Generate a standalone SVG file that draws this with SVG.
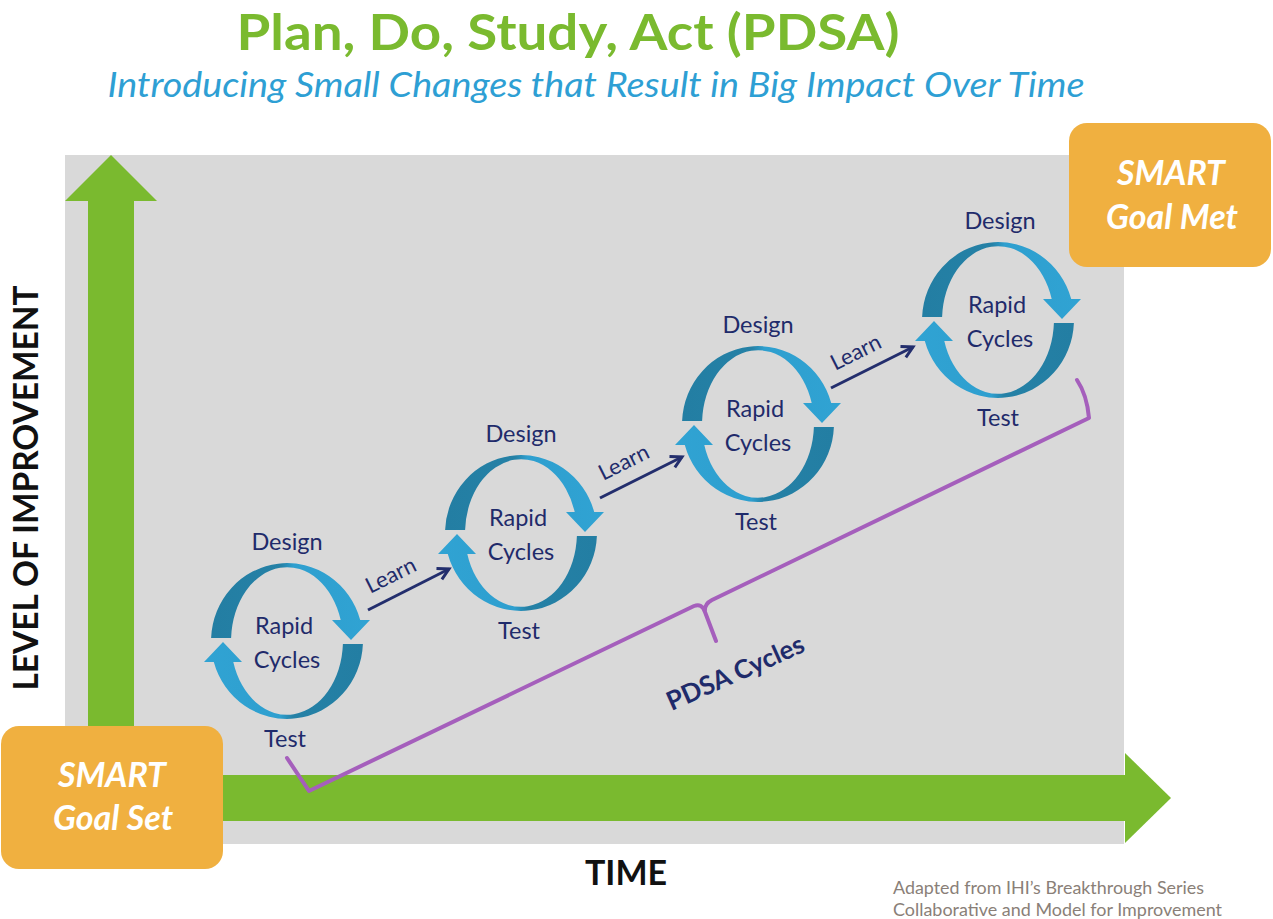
<svg xmlns="http://www.w3.org/2000/svg" xmlns:xlink="http://www.w3.org/1999/xlink" width="1273" height="919" viewBox="0 0 1273 919">
<style>
.lbl{font-family:Lato,"Open Sans","Liberation Sans",sans-serif;font-size:23.5px;fill:#1f2b6b;text-anchor:middle}
.smart{font-family:Lato,"Open Sans","Liberation Sans",sans-serif;font-size:34px;font-weight:bold;font-style:italic;fill:#ffffff;text-anchor:middle}
.axis{font-family:Lato,"Open Sans","Liberation Sans",sans-serif;font-size:34px;font-weight:bold;fill:#111111;text-anchor:middle}
.learn{font-family:Lato,"Open Sans","Liberation Sans",sans-serif;font-size:22px;fill:#1f2b6b;text-anchor:middle}
.box{fill:#f0b040}
.green{fill:#7aba2f}
.conn{stroke:#232e6d;stroke-width:3;fill:none}
</style>
<defs>
<linearGradient id="rib" x1="0" y1="0" x2="1" y2="0">
<stop offset="0" stop-color="#237ea3"/>
<stop offset="0.44" stop-color="#2581a6"/>
<stop offset="0.52" stop-color="#2e9fcf"/>
<stop offset="1" stop-color="#30a3d3"/>
</linearGradient>
<path id="arc" fill="url(#rib)" d="M-75.9,-3 A76,78 0 0 1 73.2,-21 L83,-21 L64,-1 L45,-21 L53.7,-21 A56,74 0 0 0 -55.9,-3 Z"/>
<marker id="ah" markerUnits="userSpaceOnUse" viewBox="0 0 16 16" refX="13" refY="8" markerWidth="16" markerHeight="16" orient="auto">
<path d="M2,2 L13,8 L2,14" fill="none" stroke="#232e6d" stroke-width="3" stroke-linejoin="miter"/>
</marker>
</defs>
<rect width="1273" height="919" fill="#ffffff"/>
<g id="title">
<text x="568" y="50" font-family="Lato,'Open Sans','Liberation Sans',sans-serif" font-size="50" font-weight="bold" fill="#7aba2f" text-anchor="middle" textLength="663" lengthAdjust="spacingAndGlyphs">Plan, Do, Study, Act (PDSA)</text>
<text x="596" y="97" font-family="Lato,'Open Sans','Liberation Sans',sans-serif" font-size="35" font-style="italic" fill="#2e9fd4" text-anchor="middle" textLength="977" lengthAdjust="spacingAndGlyphs">Introducing Small Changes that Result in Big Impact Over Time</text>
</g>
<g id="panel">
<rect x="65" y="155" width="1059" height="689" fill="#d9d9d9"/>
</g>
<g id="axes">
<rect class="green" x="88" y="200" width="46" height="560"/>
<polygon class="green" points="65,201 111,155 157,201"/>
<rect class="green" x="65" y="775" width="1061" height="46"/>
<polygon class="green" points="1125,753 1171,798 1125,843"/>
<text class="axis" transform="translate(38,488) rotate(-90)" textLength="405" lengthAdjust="spacingAndGlyphs">LEVEL OF IMPROVEMENT</text>
<text class="axis" x="626" y="885">TIME</text>
</g>
<g id="goalSet">
<rect class="box" x="1" y="726" width="222" height="143" rx="18"/>
<text class="smart" x="112" y="787">SMART</text>
<text class="smart" x="113" y="830">Goal Set</text>
</g>
<g id="goalMet">
<rect class="box" x="1069" y="123" width="202" height="144" rx="18"/>
<text class="smart" x="1171" y="185">SMART</text>
<text class="smart" x="1172" y="229">Goal Met</text>
</g>
<g id="connectors">
<line class="conn" x1="368" y1="610" x2="449" y2="569" marker-end="url(#ah)"/>
<line class="conn" x1="600" y1="498" x2="682" y2="457" marker-end="url(#ah)"/>
<line class="conn" x1="831" y1="388" x2="913" y2="347" marker-end="url(#ah)"/>
<text class="learn" transform="translate(394,582) rotate(-26.5)">Learn</text>
<text class="learn" transform="translate(627,469) rotate(-26.5)">Learn</text>
<text class="learn" transform="translate(859,359) rotate(-26.5)">Learn</text>
<path d="M287,758 L309,791 L694,606 Q702,603 705,612 L716,641 M705,612 Q704,604 712,600 L1089,418 Q1087,395 1077,380" fill="none" stroke="#a55fbc" stroke-width="4" stroke-linejoin="round" stroke-linecap="round"/>
<text transform="translate(739,681) rotate(-24)" font-family="Lato,'Open Sans','Liberation Sans',sans-serif" font-size="26" font-weight="bold" fill="#1f2b6b" text-anchor="middle">PDSA Cycles</text>
</g>
<g id="cycle1" transform="translate(287,641)">
<use xlink:href="#arc"/>
<use xlink:href="#arc" transform="rotate(180)"/>
<text class="lbl" x="0" y="-91">Design</text>
<text class="lbl" x="-3" y="-7">Rapid</text>
<text class="lbl" x="0" y="27">Cycles</text>
<text class="lbl" x="-2" y="106">Test</text>
</g>
<g id="cycle2" transform="translate(521,533)">
<use xlink:href="#arc"/>
<use xlink:href="#arc" transform="rotate(180)"/>
<text class="lbl" x="0" y="-91">Design</text>
<text class="lbl" x="-3" y="-7">Rapid</text>
<text class="lbl" x="0" y="27">Cycles</text>
<text class="lbl" x="-2" y="106">Test</text>
</g>
<g id="cycle3" transform="translate(758,424)">
<use xlink:href="#arc"/>
<use xlink:href="#arc" transform="rotate(180)"/>
<text class="lbl" x="0" y="-91">Design</text>
<text class="lbl" x="-3" y="-7">Rapid</text>
<text class="lbl" x="0" y="27">Cycles</text>
<text class="lbl" x="-2" y="106">Test</text>
</g>
<g id="cycle4" transform="translate(998,320)">
<use xlink:href="#arc"/>
<use xlink:href="#arc" transform="rotate(180)"/>
<text class="lbl" x="2" y="-91">Design</text>
<text class="lbl" x="-1" y="-7">Rapid</text>
<text class="lbl" x="2" y="27">Cycles</text>
<text class="lbl" x="0" y="106">Test</text>
</g>
<g id="credit" font-family="Lato,'Open Sans','Liberation Sans',sans-serif" font-size="17.5" fill="#8a7f78">
<text x="893" y="894" textLength="311" lengthAdjust="spacingAndGlyphs">Adapted from IHI’s Breakthrough Series</text>
<text x="893" y="916" textLength="329" lengthAdjust="spacingAndGlyphs">Collaborative and Model for Improvement</text>
</g>
</svg>
